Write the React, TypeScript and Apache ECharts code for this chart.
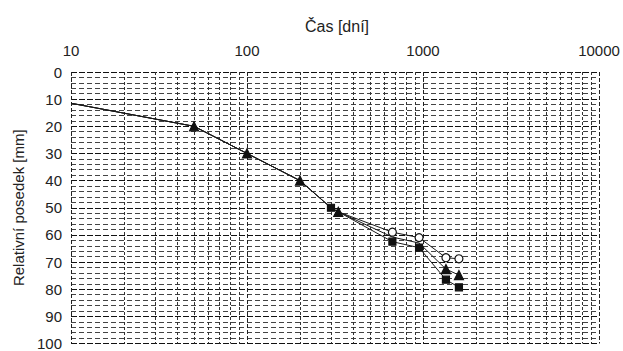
import React, { useEffect, useRef } from "react";
import * as echarts from "echarts";

// Time [days] and relative settlement [mm]
const days = [10, 50, 100, 200, 300, 330, 670, 950, 1350, 1600];
const circleSeries = [11.5, 20, 30, 40, 50, 51.5, 59, 61, 68.4, 68.8];
const triangleSeries = [11.5, 20, 30, 40, 50, 51.5, 60.8, 63, 72.6, 74.8];
const squareSeries = [11.5, 20, 30, 40, 50, 51.5, 62.5, 64.7, 76.5, 79.3];

// which points carry a visible marker
const circleMarked = [6, 7, 8, 9];
const triangleMarked = [1, 2, 3, 5, 8, 9];
const squareMarked = [4, 6, 7, 8, 9];

const xMin = 10;
const xMax = 10000;
const minorX = [2, 3, 4, 5, 6, 7, 8, 9].flatMap((m) => [10, 100, 1000].map((d) => m * d));

const xTitle = "Čas [dní]";
const yTitle = "Relativní posedek [mm]";

const FONT = "'Liberation Sans', Arial, sans-serif";

export default function App() {
  const ref = useRef<HTMLDivElement>(null);
  useEffect(() => {
    if (!ref.current) return;
    const chart = echarts.init(ref.current, null, { renderer: "svg" });
    const mk = (vals: number[], marked: number[], symbol: string, size: number, fill: string) => ({
      type: "line",
      data: days.map((d, i) => ({
        value: [d, vals[i]],
        symbol: marked.includes(i) ? symbol : "none",
      })),
      symbol,
      symbolSize: size,
      showSymbol: true,
      z: 5,
      lineStyle: { color: "#1a1a1a", width: 1 },
      itemStyle: { color: fill, borderColor: "#111", borderWidth: 1.2 },
    });
    chart.setOption({
      animation: false,
      backgroundColor: "#ffffff",
      grid: { left: 71, right: 24, top: 72, bottom: 4 },
      graphic: [
        {
          type: "text",
          x: 337,
          y: 26,
          style: {
            text: xTitle,
            textAlign: "center",
            textVerticalAlign: "middle",
            font: `16px ${FONT}`,
            fill: "#222",
          },
        },
      ],
      xAxis: {
        type: "log",
        logBase: 10,
        min: xMin,
        max: xMax,
        position: "top",
        axisLine: { show: false },
        axisTick: { show: false },
        axisLabel: {
          color: "#222",
          fontSize: 15,
          fontFamily: FONT,
          margin: 14,
          formatter: (v: number) => String(Math.round(v)),
        },
        splitLine: { show: true, lineStyle: { color: "#222", width: 1, type: [4, 2] } },
      },
      yAxis: {
        type: "value",
        inverse: true,
        min: 0,
        max: 100,
        interval: 10,
        name: yTitle,
        nameLocation: "middle",
        nameGap: 45,
        nameTextStyle: { color: "#222", fontSize: 15, fontFamily: FONT },
        axisLine: { show: false },
        axisTick: { show: false },
        axisLabel: { color: "#222", fontSize: 15, fontFamily: FONT, margin: 9 },
        splitLine: { show: true, lineStyle: { color: "#111", width: 1, type: [6, 2] } },
        minorTick: { show: false, splitNumber: 5 },
        minorSplitLine: { show: true, lineStyle: { color: "#444", width: 1, type: [5, 3] } },
      },
      series: [
        {
          type: "line",
          data: [[xMin, 0]],
          showSymbol: false,
          symbol: "none",
          lineStyle: { opacity: 0 },
          z: 1,
          silent: true,
          markLine: {
            silent: true,
            symbol: ["none", "none"],
            label: { show: false },
            lineStyle: { color: "#333", width: 1, type: [3, 2] },
            data: minorX.map((v) => ({ xAxis: v })),
          },
        },
        mk(circleSeries, circleMarked, "circle", 8, "#ffffff"),
        mk(triangleSeries, triangleMarked, "triangle", 9, "#111111"),
        mk(squareSeries, squareMarked, "rect", 7, "#111111"),
      ],
    });
    return () => chart.dispose();
  }, []);
  return (
    <div
      ref={ref}
      style={{ position: "fixed", left: 0, top: 0, width: 623, height: 351 }}
    />
  );
}
